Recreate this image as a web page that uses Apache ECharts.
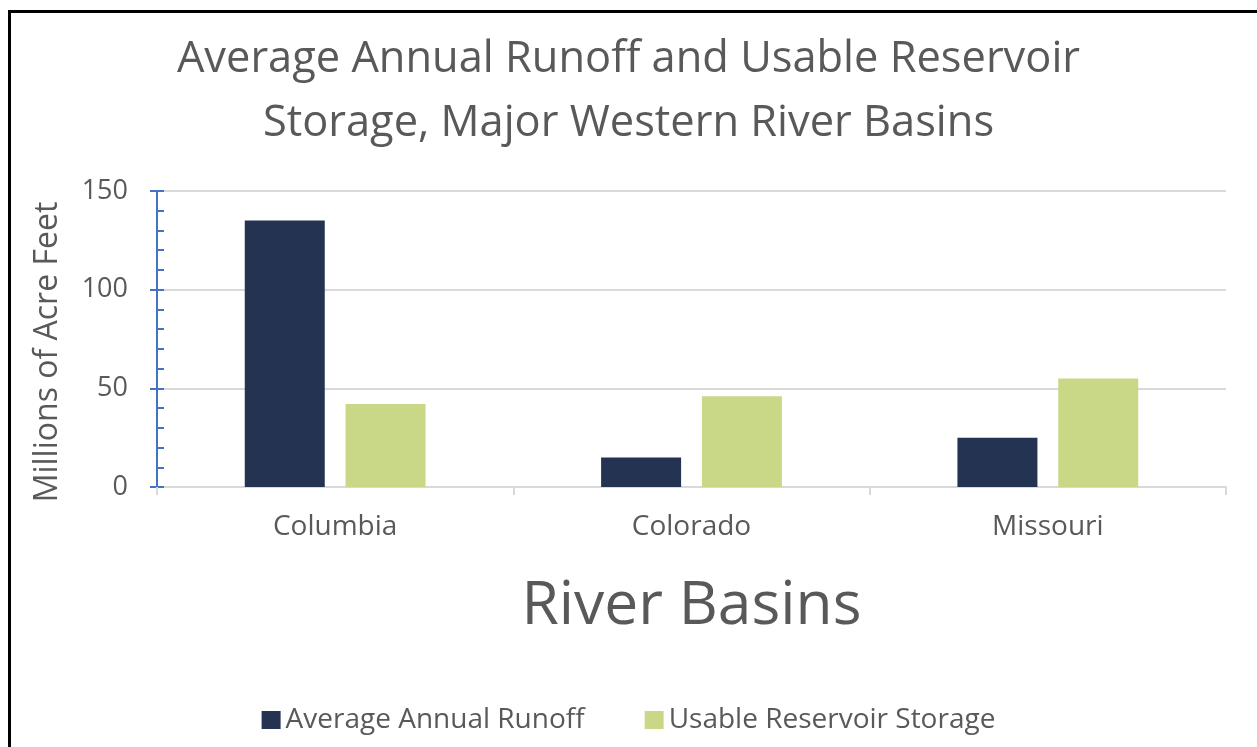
<!DOCTYPE html>
<html>
<head>
<meta charset="utf-8">
<script src="https://cdn.jsdelivr.net/npm/echarts@6/dist/echarts.min.js"></script>
<style>
html,body{margin:0;padding:0;background:#fff;}
#frame{position:absolute;left:8px;top:10px;width:1300px;height:800px;border-left:3px solid #000;border-top:3px solid #000;box-sizing:border-box;}
#chart{position:absolute;left:0;top:0;width:1257px;height:747px;}
</style>
</head>
<body>
<div id="chart"></div>
<div id="frame"></div>
<script>
const categories = ['Columbia', 'Colorado', 'Missouri'];
const seriesNames = ['Average Annual Runoff', 'Usable Reservoir Storage'];
const runoff = [135, 15, 25];
const storage = [42, 46, 55];
const titleLines = ['Average Annual Runoff and Usable Reservoir', 'Storage, Major Western River Basins'];
const yAxisName = 'Millions of Acre Feet';
const xAxisName = 'River Basins';

const FONT = 'Open Sans';
const GRAY = '#595959';
const chart = echarts.init(document.getElementById('chart'));
const titleStyle = { fontFamily: FONT, fontSize: 43.4, fontWeight: 'normal', color: GRAY };
chart.setOption({
  animation: false,
  backgroundColor: '#fff',
  title: [
    { text: titleLines[0], left: 'center', top: 38, padding: [0, 10, 0, 0], textStyle: titleStyle },
    { text: titleLines[1], left: 'center', top: 102, padding: [0, 8, 0, 0], textStyle: titleStyle }
  ],
  legend: {
    data: seriesNames,
    bottom: 8,
    left: 'center',
    itemWidth: 19,
    itemHeight: 18,
    itemGap: 60,
    icon: 'rect',
    textStyle: { fontFamily: FONT, fontSize: 28, color: GRAY }
  },
  grid: { left: 157, right: 31, top: 191, bottom: 260, containLabel: false },
  xAxis: {
    type: 'category',
    data: categories,
    name: xAxisName,
    nameLocation: 'middle',
    nameGap: 89,
    nameTextStyle: { fontFamily: FONT, fontSize: 60.5, color: GRAY },
    axisLine: { lineStyle: { color: '#D9D9D9', width: 2 } },
    axisTick: { show: true, length: 8, lineStyle: { color: '#D9D9D9', width: 2 } },
    axisLabel: { fontFamily: FONT, fontSize: 28, color: GRAY, margin: 26 }
  },
  yAxis: [{
    type: 'value',
    min: 0, max: 150, interval: 50,
    name: yAxisName,
    nameLocation: 'middle',
    nameGap: 93,
    nameTextStyle: { fontFamily: FONT, fontSize: 32, color: GRAY, padding: [0, 26, 0, 0] },
    axisLine: { show: true, lineStyle: { color: '#4472C4', width: 2 } },
    axisTick: { show: true, length: 7, lineStyle: { color: '#4472C4', width: 2 } },
    axisLabel: { fontFamily: FONT, fontSize: 27, color: GRAY, margin: 29 },
    splitLine: { show: true, lineStyle: { color: '#D9D9D9', width: 2 } }
  }, {
    type: 'value',
    position: 'left',
    min: 0, max: 150, interval: 50,
    axisLine: { show: true, lineStyle: { color: '#4472C4', width: 2 } },
    axisTick: { show: true, inside: true, length: 7, lineStyle: { color: '#4472C4', width: 2 } },
    minorTick: { show: true, splitNumber: 5, length: 7, lineStyle: { color: '#4472C4', width: 2 } },
    axisLabel: { show: false },
    splitLine: { show: false }
  }],
  series: [{
    name: seriesNames[0],
    type: 'bar',
    data: runoff,
    barWidth: 80,
    barGap: '26%',
    itemStyle: { color: '#243351' }
  }, {
    name: seriesNames[1],
    type: 'bar',
    data: storage,
    barWidth: 80,
    barGap: '26%',
    itemStyle: { color: '#C9D886' }
  }]
});
</script>
</body>
</html>
